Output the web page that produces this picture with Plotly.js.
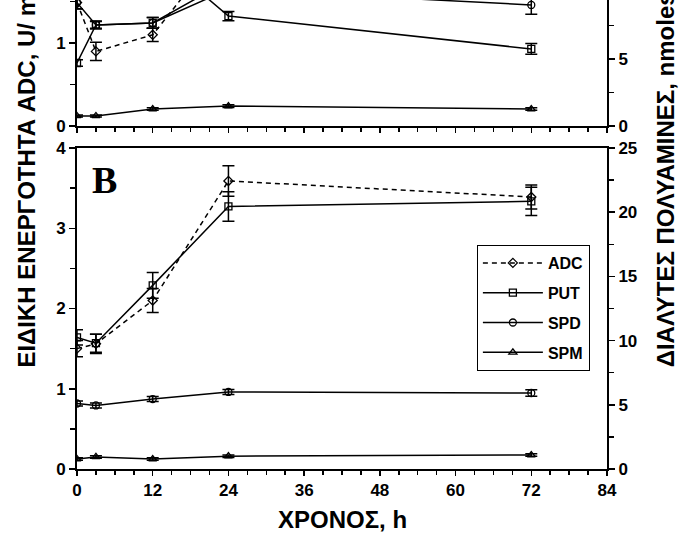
<!DOCTYPE html>
<html>
<head>
<meta charset="utf-8">
<script src="https://cdn.plot.ly/plotly-3.0.1.min.js"></script>
<style>html,body{margin:0;padding:0;background:#fff;}#chart{width:683px;height:534px;}</style>
</head>
<body>
<div id="chart"></div>
<script>
// ---- data ----
const times = [0, 3, 12, 24, 72];           // h
// Panel A (upper, cropped)
const adcA    = [1.49, 0.90, 1.10, 2.25, 1.90];   // U/mg
const adcAerr = [0.08, 0.11, 0.08, 0.15, 0.12];
const putAt   = [0, 3, 12, 20, 24, 72];
const putA    = [4.70, 7.54, 7.69, 9.80, 8.20, 5.75]; // nmoles
const putAerr = [0.25, 0.30, 0.40, 0.00, 0.35, 0.40];
const spdA    = [9.20, 7.54, 7.69, 10.20, 9.03];
const spdAerr = [0.45, 0.25, 0.40, 0.50, 0.70];
const spmA    = [0.75, 0.75, 1.27, 1.49, 1.27];
const spmAerr = [0.08, 0.08, 0.10, 0.10, 0.10];
// Panel B (lower)
const adcB    = [1.50, 1.56, 2.10, 3.59, 3.39];
const adcBerr = [0.10, 0.12, 0.15, 0.19, 0.15];
const putB    = [10.25, 9.80, 14.30, 20.45, 20.85];
const putBerr = [0.60, 0.70, 1.00, 1.15, 1.10];
const spdB    = [5.10, 4.95, 5.45, 6.00, 5.92];
const spdBerr = [0.20, 0.20, 0.20, 0.20, 0.25];
const spmB    = [0.78, 0.94, 0.78, 1.00, 1.09];
const spmBerr = [0.10, 0.10, 0.10, 0.10, 0.10];
const seriesNames = ['ADC', 'PUT', 'SPD', 'SPM'];
const xTickVals = [0, 12, 24, 36, 48, 60, 72, 84];

// ---- styles ----
const K = '#000';
const FONT = 'Liberation Sans, Arial, sans-serif';
function err(a){ return {type:'data', array:a, visible:true, color:K, thickness:1.5, width:6}; }
function tr(x, y, e, name, sym, dash, xa, ya, legend, grp){
  return {x:x, y:y, error_y:err(e), name:name, type:'scatter', mode:'lines+markers',
    xaxis:xa, yaxis:ya, showlegend:legend, legendgroup:grp,
    line:{color:K, width:1.5, dash:dash},
    marker:{symbol:sym, size:7, color:K, line:{color:K, width:1.3}}};
}
const data = [
  tr(times, spmA, spmAerr, seriesNames[3], 'triangle-up-open', 'solid', 'x', 'y2', false, 'd'),
  tr(times, spdA, spdAerr, seriesNames[2], 'circle-open', 'solid', 'x', 'y2', false, 'c'),
  tr(putAt, putA, putAerr, seriesNames[1], 'square-open', 'solid', 'x', 'y2', false, 'b'),
  tr(times, adcA, adcAerr, seriesNames[0], 'diamond-open', '5px,4px', 'x', 'y', false, 'a'),
  tr(times, adcB, adcBerr, seriesNames[0], 'diamond-open', '5px,4px', 'x2', 'y3', true, 'a'),
  tr(times, putB, putBerr, seriesNames[1], 'square-open', 'solid', 'x2', 'y4', true, 'b'),
  tr(times, spdB, spdBerr, seriesNames[2], 'circle-open', 'solid', 'x2', 'y4', true, 'c'),
  tr(times, spmB, spmBerr, seriesNames[3], 'triangle-up-open', 'solid', 'x2', 'y4', true, 'd')
];

const tickFont = {family:FONT, size:17, color:K, weight:700};
function xax(anchor, labels, mirror){
  return {anchor:anchor, range:[0,84], tickmode:'array', tickvals:xTickVals, ticktext:xTickVals.map(String),
    showticklabels:labels, ticks:'outside', ticklen:5, tickwidth:1.5, tickcolor:K,
    minor:{dtick:3, ticks:'outside', ticklen:4, tickwidth:1.5, tickcolor:K},
    showline:true, linewidth:2, linecolor:K, mirror:mirror, showgrid:false, zeroline:false,
    tickfont:tickFont, fixedrange:true};
}
function yax(o){
  return Object.assign({ticks:'outside', ticklen:6, tickwidth:1.5, tickcolor:K,
    showline:true, linewidth:2, linecolor:K, showgrid:false, zeroline:false,
    tickfont:tickFont, fixedrange:true}, o);
}
const layout = {
  width:683, height:534,
  margin:{l:77, r:76, t:0, b:65, pad:0},
  paper_bgcolor:'#fff', plot_bgcolor:'#fff',
  showlegend:true,
  xaxis: xax('y', false, false),
  xaxis2: xax('y3', true, true),
  yaxis: yax({domain:[0.7313, 1], range:[0, 1.52], dtick:1, tick0:0,
    minor:{dtick:0.5, ticks:'outside', ticklen:5, tickwidth:1.5, tickcolor:K}, anchor:'x'}),
  yaxis2: yax({domain:[0.7313, 1], range:[0, 9.4], dtick:5, tick0:0, side:'right', overlaying:'y', anchor:'x',
    minor:{dtick:2.5, ticks:'outside', ticklen:5, tickwidth:1.5, tickcolor:K}}),
  yaxis3: yax({domain:[0, 0.6844], range:[0, 4], dtick:1, tick0:0, anchor:'x2',
    minor:{dtick:0.5, ticks:'outside', ticklen:5, tickwidth:1.5, tickcolor:K}}),
  yaxis4: yax({domain:[0, 0.6844], range:[0, 25], dtick:5, tick0:0, side:'right', overlaying:'y3', anchor:'x2',
    minor:{dtick:2.5, ticks:'outside', ticklen:5, tickwidth:1.5, tickcolor:K}}),
  legend:{x:0.7545, y:0.4776, xanchor:'left', yanchor:'top', xref:'paper', yref:'paper',
    bgcolor:'#fff', bordercolor:K, borderwidth:1, font:{family:FONT, size:16, color:K, weight:700},
    traceorder:'grouped', tracegroupgap:6, itemwidth:60},
  annotations:[
    {text:'ΕΙΔΙΚΗ ΕΝΕΡΓΟΤΗΤΑ ADC, U/ mg', textangle:-90, xref:'paper', yref:'paper',
     x:-0.0943, y:0.211, xanchor:'center', yanchor:'bottom', showarrow:false,
     font:{family:FONT, size:24, color:K, weight:700}},
    {text:'ΔΙΑΛΥΤΕΣ ΠΟΛΥΑΜΙΝΕΣ, nmoles/ g', textangle:-90, xref:'paper', yref:'paper',
     x:1.111, y:0.2132, xanchor:'center', yanchor:'bottom', showarrow:false,
     font:{family:FONT, size:24, color:K, weight:700}},
    {text:'ΧΡΟΝΟΣ, h', xref:'paper', yref:'paper', x:0.5, y:-0.1087, xanchor:'center', yanchor:'middle',
     showarrow:false, font:{family:FONT, size:24, color:K, weight:700}},
    {text:'B', xref:'paper', yref:'paper', x:0.024, y:0.665, xanchor:'left', yanchor:'top',
     showarrow:false, font:{family:'Liberation Serif, Times New Roman, serif', size:38, color:K, weight:700}}
  ]
};
Plotly.newPlot('chart', data, layout, {displayModeBar:false, staticPlot:true});
</script>
</body>
</html>
